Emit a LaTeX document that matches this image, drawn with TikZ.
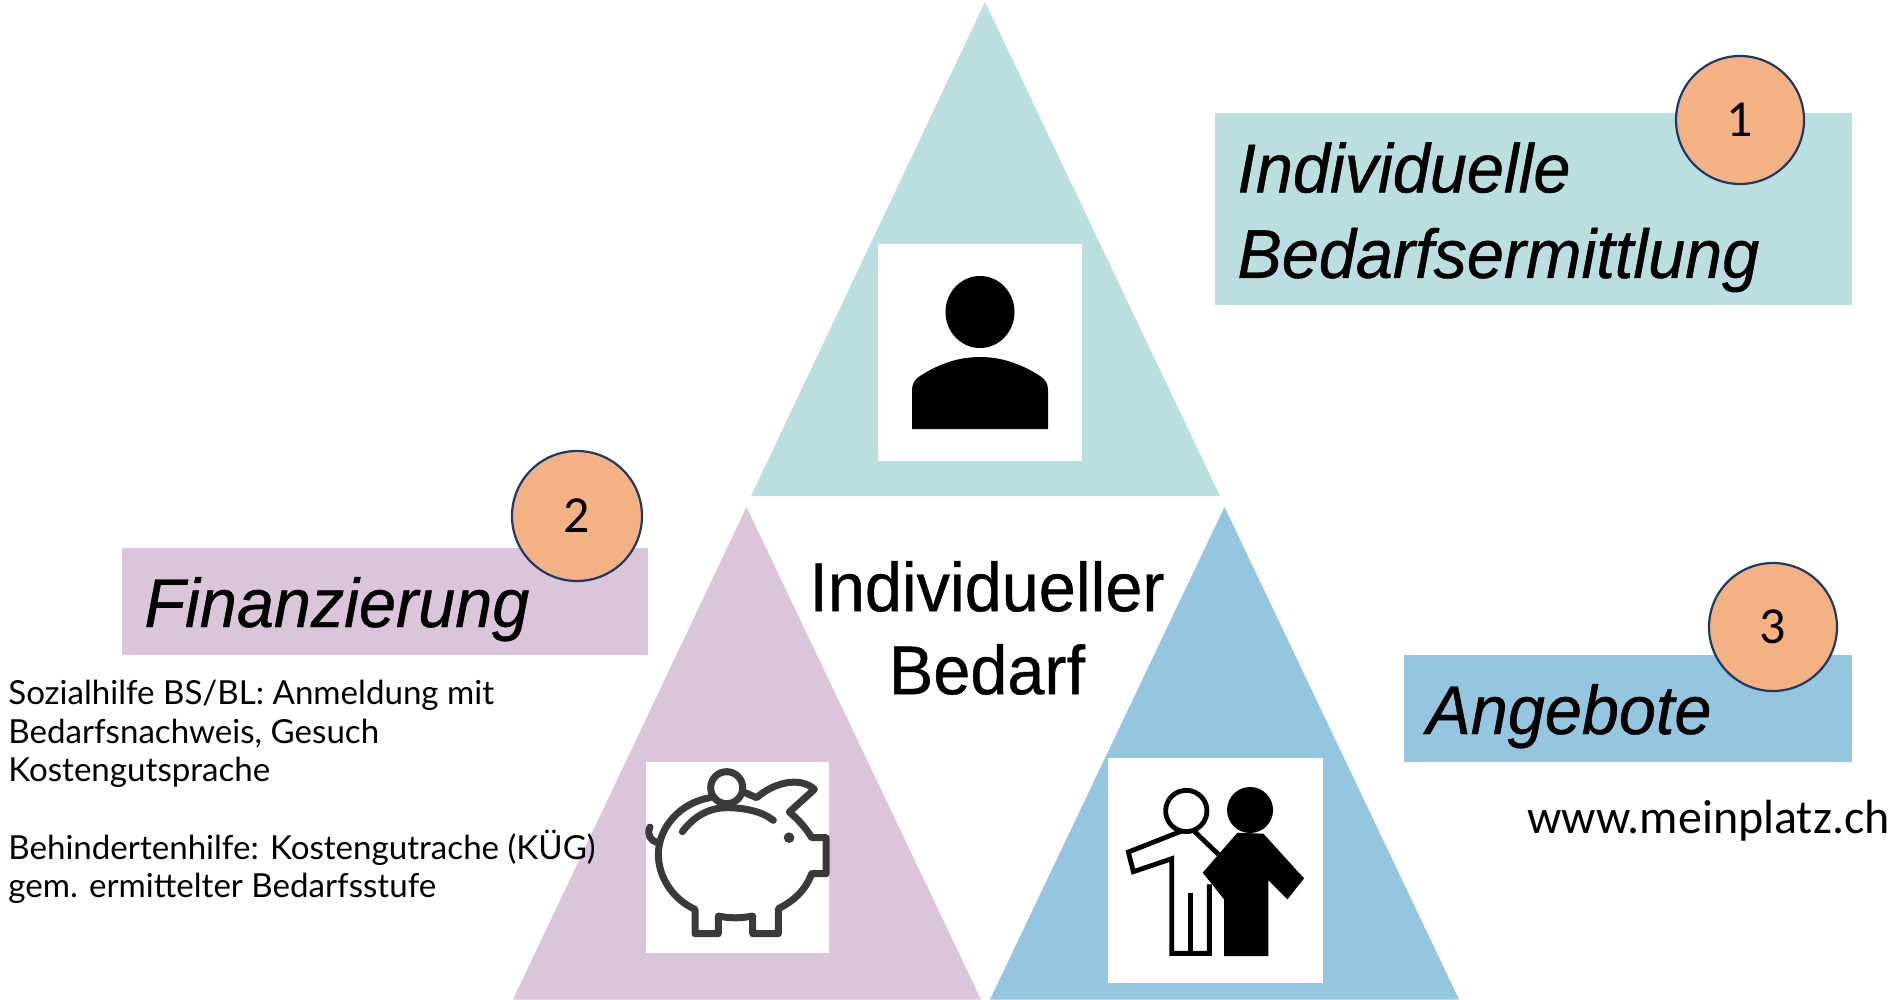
\documentclass[tikz,border=0pt]{standalone}
\usepackage{fontspec}
\usetikzlibrary{positioning}
\setmainfont[FakeStretch=0.965,FakeBold=0.6]{Liberation Sans}
\newfontfamily\notefont{Lato}
\newfontfamily\numfont{Carlito}
\definecolor{tealTri}{HTML}{BBDFE1}
\definecolor{lilaTri}{HTML}{DAC5DA}
\definecolor{blueTri}{HTML}{94C6E0}
\definecolor{orangeNum}{HTML}{F4B183}
\definecolor{navyNum}{HTML}{1F3864}
\definecolor{pigGray}{HTML}{3A3A3A}
\tikzset {
    style Box/.style={
        rectangle, % Set the shape as a rectangle
        inner sep=0pt,
        anchor=north west,
        align=left,
        text depth=0pt,
    },
    style Title/.style={
        style Box,
        font=\fontsize{34.5}{42.75}\selectfont\itshape,
    },
    style Num/.style={
        circle,
        fill=orangeNum,
        draw=navyNum,
        line width=1.1pt,
        inner sep=0pt,
        minimum size=64pt,
        font=\numfont\fontsize{26}{30}\selectfont,
    },
    style Icon/.style={
        fill=white,
        rectangle,
        inner sep=0pt,
        anchor=north west,
    },
    style Note/.style={
        anchor=north west,
        inner sep=0pt,
        align=left,
        font=\notefont\fontsize{16.55}{19.3}\selectfont,
    },
}
\begin{document}
\begin{tikzpicture}[x=0.5pt, y=-0.5pt]
\useasboundingbox (0,0) rectangle (1888,1000);

% triangles
\fill[tealTri] (985,2) -- (1220,496) -- (751,496) -- cycle;
\fill[lilaTri] (746.5,507) -- (981,999.5) -- (513,999.5) -- cycle;
\fill[blueTri] (1224.5,507) -- (1459,999.5) -- (990,999.5) -- cycle;

% white squares behind the icons
\node[style Icon, minimum width=102pt, minimum height=108.5pt] at (878,244) (personSquare) {};
\node[style Icon, minimum width=91.5pt, minimum height=95.5pt] at (646,762) (pigSquare) {};
\node[style Icon, minimum width=107.5pt, minimum height=112.5pt] at (1108,758) (peopleSquare) {};

% person
\fill[black] (980,312) ellipse (34.5 and 36);
\fill[black] (912,429) -- (912,391) .. controls (912,383) and (915,379) .. (920,376)
    .. controls (940,363) and (960,357) .. (980,357) .. controls (1000,357) and (1020,363) .. (1040,376)
    .. controls (1045,379) and (1048,383) .. (1048,391) -- (1048,429) -- cycle;

% piggy bank
\begin{scope}[shift={(630,741)}, x=0.1667pt, y=-0.1667pt, draw=pigGray, line width=3.5pt, line cap=round, line join=round]
\draw (345,155) -- (380,170) .. controls (430,125) and (510,105) .. (553,145) -- (478,213)
    .. controls (510,240) and (530,265) .. (545,290) -- (588,290) -- (588,398) -- (545,398)
    .. controls (525,450) and (490,480) .. (445,503) -- (445,578) -- (368,578) -- (368,525)
    .. controls (330,532) and (300,532) .. (265,525) -- (265,578) -- (195,578) -- (195,505)
    .. controls (120,470) and (85,400) .. (85,340) .. controls (85,260) and (150,185) .. (240,170);
\draw (290,140) circle (48);
\draw (157,272) .. controls (200,215) and (250,200) .. (290,200) .. controls (340,200) and (395,210) .. (430,238);
\draw (85,305) .. controls (60,300) and (50,280) .. (60,258);
\fill[pigGray] (477,290) circle (16);
\end{scope}

% two people
\begin{scope}[shift={(1050,721)}, x=0.1667pt, y=-0.1667pt, line width=2.4pt]
\draw (505,400) -- (430,328) arc (70:360:62) arc (0:102:62);
\draw (395,330) -- (235,393) -- (250,452) -- (365,413) -- (365,697) -- (478,697) -- (478,490);
\draw (421,515) -- (421,697);
\fill[black] (600,267) circle (69);
\fill[black] (562,335) -- (458,455) -- (522,535) -- (522,705) -- (655,705) -- (655,478)
    -- (712,535) -- (762,472) -- (640,338) -- cycle;
\end{scope}

% title boxes
\node[style Box, fill=tealTri, minimum width=318.5pt, minimum height=96pt] at (1215,113) (boxOne) {};
\node[style Title] at (1237,142) (titleOne) {Individuelle\\Bedarfsermittlung};
\node[style Box, fill=lilaTri, minimum width=263pt, minimum height=53.5pt] at (122,548) (boxTwo) {};
\node[style Title, anchor=west] at (144,602) (titleTwo) {Finanzierung};
\node[style Box, fill=blueTri, minimum width=224pt, minimum height=53.5pt] at (1404,655) (boxThree) {};
\node[style Title, anchor=west] at (1426,709) (titleThree) {Angebote};

% numbers
\node[style Num] at (1740,120) (numOne) {1};
\node[style Num, minimum size=65pt] at (577,516) (numTwo) {2};
\node[style Num] at (1773,627) (numThree) {3};

% centre text
\node[align=center, font=\fontsize{34.5}{41.5}\selectfont] at (987,628) (centre) {Individueller\\Bedarf};

% notes
\node[style Note] at (8,680) (note) {Sozialhilfe BS/BL: Anmeldung mit\\Bedarfsnachweis, Gesuch\\Kostengutsprache\\[19.3pt]Behindertenhilfe: Kostengutrache (KÜG)\\gem. ermittelter Bedarfsstufe};
\node[anchor=west, inner sep=0pt, font=\numfont\fontsize{24}{28}\selectfont] at (1527,820.5) (www) {www.meinplatz.ch};
\end{tikzpicture}
\end{document}
